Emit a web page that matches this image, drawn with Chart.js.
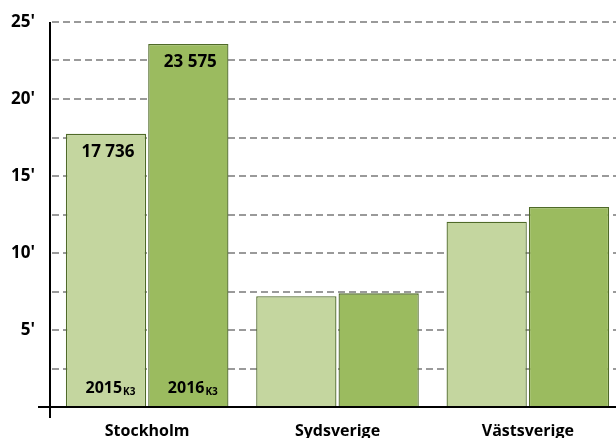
<!DOCTYPE html>
<html>
<head>
<meta charset="utf-8">
<script src="https://cdn.jsdelivr.net/npm/chart.js@4"></script>
<style>
  html, body { margin: 0; padding: 0; background: #fff; overflow: hidden; }
  #wrap { width: 623px; height: 438px; }
</style>
</head>
<body>
<div id="wrap"><canvas id="regionChart" width="623" height="438"></canvas></div>
<script>
// data (values in units, axis shows thousands)
const regions = ['Stockholm', 'Sydsverige', 'Västsverige'];
const years = ['2015', '2016'];
const yearSuffix = 'K3';
const values2015 = [17736, 7190, 12030];
const values2016 = [23575, 7380, 12990];
const labelledRegions = [0]; // only Stockholm gets value + year labels
const yTickStep = 2500;
const yLabelStep = 5000;
const yMax = 25000;

const FONT = '"Open Sans", "DejaVu Sans", sans-serif';

function fmtSpace(v) {
    return String(Math.round(v)).replace(/\B(?=(\d{3})+(?!\d))/g, ' ');
}

// black axis lines, Excel style (y line runs past zero, x line sticks out left)
const axisLinesPlugin = {
    id: 'axisLines',
    afterDraw(chart) {
        const {ctx, chartArea, scales} = chart;
        const y0 = scales.y.getPixelForValue(0);
        ctx.save();
        ctx.strokeStyle = '#000';
        ctx.lineWidth = 2;
        ctx.beginPath();
        ctx.moveTo(50, chartArea.top);
        ctx.lineTo(50, y0 + 11);
        ctx.moveTo(38, y0);
        ctx.lineTo(chart.width, y0);
        ctx.stroke();
        ctx.restore();
    }
};

// value at top of bar, year (with small K3) at the bottom
const barLabelPlugin = {
    id: 'barLabels',
    afterDatasetsDraw(chart) {
        const {ctx} = chart;
        ctx.save();
        ctx.fillStyle = '#000';
        chart.data.datasets.forEach((ds, di) => {
            const meta = chart.getDatasetMeta(di);
            labelledRegions.forEach(i => {
                const bar = meta.data[i];
                // value
                ctx.font = 'bold 17px ' + FONT;
                ctx.textAlign = 'center';
                ctx.textBaseline = 'middle';
                ctx.fillText(fmtSpace(ds.data[i]), bar.x + 2, bar.y + 18);
                // year + subscript
                const bigFont = 'bold 16px ' + FONT;
                const smallFont = 'bold 10px ' + FONT;
                ctx.font = bigFont;
                const w1 = ctx.measureText(years[di]).width;
                ctx.font = smallFont;
                const w2 = ctx.measureText(yearSuffix).width;
                const x0 = bar.x + 4 - (w1 + w2) / 2;
                const base = bar.base - 13;
                ctx.textAlign = 'left';
                ctx.textBaseline = 'alphabetic';
                ctx.font = bigFont;
                ctx.fillText(years[di], x0, base);
                ctx.font = smallFont;
                ctx.fillText(yearSuffix, x0 + w1 + 1, base + 1.5);
            });
        });
        ctx.restore();
    }
};

const chart = new Chart(document.getElementById('regionChart'), {
    type: 'bar',
    plugins: [axisLinesPlugin, barLabelPlugin],
    data: {
        labels: regions,
        datasets: [
            {
                label: years[0],
                data: values2015,
                backgroundColor: '#c4d69f',
                borderColor: '#4f6a28',
                borderWidth: 1.3,
                categoryPercentage: 0.865,
                barPercentage: 0.975
            },
            {
                label: years[1],
                data: values2016,
                backgroundColor: '#9bbb5f',
                borderColor: '#4f6a28',
                borderWidth: 1.3,
                categoryPercentage: 0.865,
                barPercentage: 0.975
            }
        ]
    },
    options: {
        responsive: false,
        animation: false,
        layout: { padding: { top: 22, right: 0, left: 0, bottom: 0 } },
        plugins: {
            legend: { display: false },
            tooltip: { enabled: false }
        },
        scales: {
            x: {
                grid: { display: false, drawTicks: false },
                border: { display: false },
                ticks: {
                    color: '#000',
                    font: { family: FONT, size: 16, weight: 'bold' },
                    padding: 15
                },
                afterFit(scale) {
                    scale.height = 31;
                    scale.paddingLeft = 0;
                    scale.paddingRight = 0;
                }
            },
            y: {
                min: 0,
                max: yMax,
                grid: {
                    color: '#9a9a9a',
                    lineWidth: 2,
                    drawTicks: false
                },
                border: { display: false, dash: [7, 4] },
                ticks: {
                    stepSize: yTickStep,
                    color: '#000',
                    font: { family: FONT, size: 17, weight: 'bold' },
                    padding: 17,
                    callback: v => (v > 0 && v % yLabelStep === 0) ? (v / 1000) + "'" : ''
                },
                afterFit(scale) {
                    scale.width = 52;
                    scale.paddingTop = 0;
                    scale.paddingBottom = 0;
                }
            }
        }
    }
});
</script>
</body>
</html>
